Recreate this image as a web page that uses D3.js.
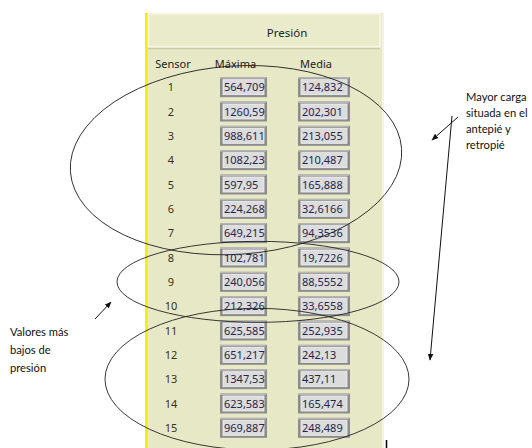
<!DOCTYPE html>
<html>
<head>
<meta charset="utf-8">
<script src="https://cdn.jsdelivr.net/npm/d3@7"></script>
<style>
  body { margin: 0; background: #fff; }
  svg { display: block; }
  text { font-family: "Noto Sans", "DejaVu Sans", sans-serif; fill: #222; }
  .note { font-family: Lato, "Open Sans", sans-serif; font-size: 11.2px; fill: #111; }
</style>
</head>
<body>
<div id="chart"></div>
<script>
var sensores = [1, 2, 3, 4, 5, 6, 7, 8, 9, 10, 11, 12, 13, 14, 15];
var maxima = [564.709, 1260.59, 988.611, 1082.23, 597.95, 224.268, 649.215, 102.781, 240.056, 212.326, 625.585, 651.217, 1347.53, 623.583, 969.887];
var media = [124.832, 202.301, 213.055, 210.487, 165.888, 32.6166, 94.3536, 19.7226, 88.5552, 33.6558, 252.935, 242.13, 437.11, 165.474, 248.489];
var columnas = ["Sensor", "Máxima", "Media"];
var grupos = [[1, 7], [8, 10], [11, 15]];
var notaDerecha = ["Mayor carga", "situada en el", "antepié y", "retropié"];
var notaIzquierda = ["Valores más", "bajos de", "presión"];

var width = 532, height = 448;

var svg = d3.select("#chart").append("svg")
    .attr("width", width)
    .attr("height", height);

var defs = svg.append("defs");
defs.append("marker")
    .attr("id", "flecha")
    .attr("viewBox", "0 0 10 10")
    .attr("refX", 9).attr("refY", 5)
    .attr("markerWidth", 7).attr("markerHeight", 7)
    .attr("orient", "auto")
    .append("path").attr("d", "M0,1L10,5L0,9z").attr("fill", "#111");

var fmt = d3.formatLocale({decimal: ",", thousands: "", grouping: [3], currency: ["", ""]}).format(".6~r");

var y = d3.scaleBand()
    .domain(sensores)
    .range([75, 440]);

var x = d3.scaleOrdinal()
    .domain(columnas)
    .range([171, 220, 298]);

var boxW = {"Máxima": 47, "Media": 52};

// panel
var panel = {x0: 145, x1: 384, y0: 13};
svg.append("rect")
    .attr("x", panel.x0).attr("y", panel.y0)
    .attr("width", panel.x1 - panel.x0).attr("height", height - panel.y0)
    .attr("fill", "#e7e9c6");
svg.append("rect")
    .attr("x", panel.x0 + 3).attr("y", panel.y0 + 1)
    .attr("width", panel.x1 - panel.x0 - 7).attr("height", 33)
    .attr("fill", "#e9ebcb")
    .attr("stroke", "#f7f8ea").attr("stroke-width", 1.5);
svg.append("line")
    .attr("x1", panel.x0 + 3).attr("x2", panel.x1 - 4)
    .attr("y1", panel.y0 + 35.5).attr("y2", panel.y0 + 35.5)
    .attr("stroke", "#c9cba6").attr("stroke-width", 1.5);
svg.append("line")
    .attr("x1", panel.x1 - 1).attr("x2", panel.x1 - 1)
    .attr("y1", panel.y0).attr("y2", height)
    .attr("stroke", "#f3f4e2").attr("stroke-width", 2);
svg.append("rect")
    .attr("x", panel.x0).attr("y", panel.y0)
    .attr("width", 2.5).attr("height", height - panel.y0)
    .attr("fill", "#f2f000");

svg.append("text")
    .attr("x", 287).attr("y", 37)
    .attr("text-anchor", "middle")
    .style("font-size", "11.5px")
    .text("Presión");

svg.selectAll(".col")
    .data(columnas)
    .enter().append("text")
    .attr("class", "col")
    .attr("x", function(d) { return d == "Sensor" ? x(d) + 2 : x(d) + boxW[d] / 2 - 8; })
    .attr("y", 68)
    .attr("text-anchor", "middle")
    .style("font-size", "11px")
    .text(function(d) { return d; });

var filas = svg.selectAll(".fila")
    .data(sensores)
    .enter().append("g")
    .attr("class", "fila")
    .attr("transform", function(d) { return "translate(0," + (y(d) + y.bandwidth() / 2) + ")"; });

filas.append("text")
    .attr("x", x("Sensor"))
    .attr("y", 4)
    .attr("text-anchor", "middle")
    .style("font-size", "11px")
    .style("fill", "#3a3020")
    .text(function(d) { return d; });

function caja(col, vals) {
    var w = boxW[col];
    var g = filas.append("g").attr("transform", "translate(" + x(col) + ",0)");
    g.append("rect")
        .attr("x", 0).attr("y", -10)
        .attr("width", w).attr("height", 20)
        .attr("fill", "#8c8c8c");
    g.append("rect")
        .attr("x", 0).attr("y", -10)
        .attr("width", w - 1).attr("height", 1.5)
        .attr("fill", "#b8b8b8");
    g.append("rect")
        .attr("x", 3).attr("y", -7.5)
        .attr("width", w - 6).attr("height", 15)
        .attr("fill", "#dcdcdc")
        .attr("stroke", "#f2f2f2").attr("stroke-width", 0.8);
    g.append("text")
        .attr("x", 4).attr("y", 4)
        .style("font-size", "11px")
        .style("fill", "#26264a")
        .text(function(d, i) { return fmt(vals[i]); });
}
caja("Máxima", maxima);
caja("Media", media);

// elipses (a mano, un poco giradas)
var elipse = [{cx: 236, rx: 166, pad: 9, rot: -4}, {cx: 258, rx: 141, pad: 4, rot: 0}, {cx: 257, rx: 152, pad: 10, rot: 0}];
svg.selectAll(".elipse")
    .data(grupos)
    .enter().append("ellipse")
    .attr("class", "elipse")
    .attr("cx", function(d, i) { return elipse[i].cx; })
    .attr("cy", function(d) { return (y(d[0]) + y(d[1]) + y.bandwidth()) / 2; })
    .attr("rx", function(d, i) { return elipse[i].rx; })
    .attr("ry", function(d, i) { return (y(d[1]) + y.bandwidth() - y(d[0])) / 2 + elipse[i].pad; })
    .attr("transform", function(d, i) {
        return "rotate(" + elipse[i].rot + "," + elipse[i].cx + "," + (y(d[0]) + y(d[1]) + y.bandwidth()) / 2 + ")";
    })
    .attr("fill", "none")
    .attr("stroke", "#222")
    .attr("stroke-width", 0.9);

// flechas
var flechas = [[458, 117, 432, 140], [452, 116, 430, 360], [95, 319, 111, 302]];
svg.selectAll(".flecha")
    .data(flechas)
    .enter().append("line")
    .attr("x1", function(d) { return d[0]; }).attr("y1", function(d) { return d[1]; })
    .attr("x2", function(d) { return d[2]; }).attr("y2", function(d) { return d[3]; })
    .attr("stroke", "#111").attr("stroke-width", 1)
    .attr("marker-end", "url(#flecha)");

svg.append("line")
    .attr("x1", 386.5).attr("x2", 386.5)
    .attr("y1", 440).attr("y2", height)
    .attr("stroke", "#000").attr("stroke-width", 1.5);

svg.selectAll(".notaD")
    .data(notaDerecha)
    .enter().append("text")
    .attr("class", "note")
    .attr("x", 466).attr("y", function(d, i) { return 101 + i * 16; })
    .text(function(d) { return d; });

svg.selectAll(".notaI")
    .data(notaIzquierda)
    .enter().append("text")
    .attr("class", "note")
    .attr("x", 10).attr("y", function(d, i) { return 336 + i * 18; })
    .text(function(d) { return d; });
</script>
</body>
</html>
